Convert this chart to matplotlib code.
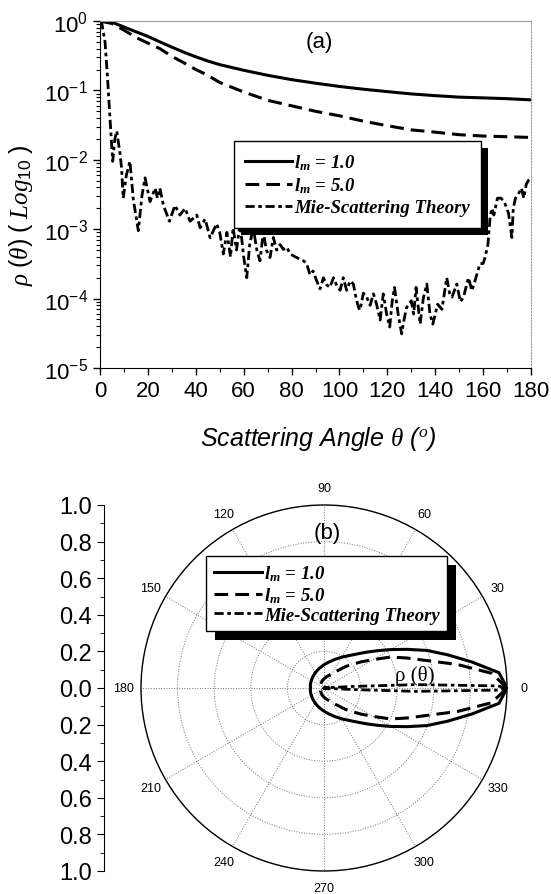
import numpy as np
import matplotlib
matplotlib.use("Agg")
import matplotlib.pyplot as plt
from matplotlib.patches import Rectangle
from matplotlib.ticker import MultipleLocator, LogLocator, NullFormatter, FuncFormatter

plt.rcParams['font.family'] = ['Liberation Sans', 'DejaVu Sans']
plt.rcParams['mathtext.fontset'] = 'custom'
plt.rcParams['mathtext.it'] = 'Liberation Serif:italic'
plt.rcParams['mathtext.bf'] = 'Liberation Serif:bold:italic'
plt.rcParams['mathtext.rm'] = 'Liberation Sans'

# ---- data ----
angle_lm = [0, 5, 10, 15, 20, 25, 30, 35, 40, 45, 50, 60, 70, 80, 90, 100,
            110, 120, 130, 140, 150, 160, 170, 180]
rho_lm1 = [1.0, 0.96, 0.82, 0.70, 0.60, 0.50, 0.42, 0.355, 0.305, 0.265, 0.235,
           0.195, 0.165, 0.143, 0.127, 0.114, 0.104, 0.096, 0.089, 0.084,
           0.080, 0.078, 0.076, 0.073]
rho_lm5 = [1.0, 0.92, 0.74, 0.58, 0.48, 0.40, 0.31, 0.25, 0.20, 0.165, 0.13,
           0.095, 0.072, 0.060, 0.050, 0.043, 0.036, 0.031, 0.027, 0.025,
           0.023, 0.022, 0.0215, 0.021]

angle_mie = [0, 0.7, 2.1, 3.1, 3.9, 4.5, 5.3, 6.2, 7.0, 8.4, 9.0, 9.7, 11.0,
             12.5, 13.9, 16.0, 17.5, 18.8, 20.9, 23.0, 24.0, 25.0, 26.5, 29.0,
             31.3, 33.4, 35.5, 37.6, 40.4, 41.8, 43.9, 46.0, 48.7, 50.0, 51.5,
             53.0, 54.5, 55.6, 57.0, 58.5, 60.0, 61.3, 62.5, 64.0, 65.5, 66.8,
             68.2, 69.5, 71.0, 72.4, 73.8, 75.2, 76.6, 78.0, 79.4, 81.5, 83.5,
             85.0, 86.3, 87.7, 89.0, 90.5, 91.9, 93.3, 94.5, 96.0, 97.5, 99.0,
             100.3, 101.6, 103.0, 104.5, 105.8, 107.0, 108.0, 108.6, 110.0,
             111.4, 112.8, 114.2, 115.5, 117.0, 118.3, 119.7, 121.0, 122.0,
             123.0, 124.5, 126.0, 127.0, 128.0, 130.0, 131.0, 132.0, 133.7,
             135.0, 136.5, 137.8, 139.0, 141.0, 142.8, 144.8, 146.0, 147.0,
             149.0, 150.5, 151.8, 153.9, 155.3, 156.6, 158.7, 160.0, 160.8,
             162.0, 162.9, 163.6, 164.5, 166.0, 167.5, 169.0, 170.6, 172.0,
             172.6, 173.5, 174.7, 176.0, 177.0, 178.0, 179.0, 180.0]
rho_mie = [1.0, 0.95, 0.5, 0.16, 0.055, 0.026, 0.0095, 0.02, 0.026, 0.012,
           0.0076, 0.0028, 0.006, 0.0095, 0.0027, 0.00095, 0.003, 0.0055,
           0.0025, 0.0039, 0.0028, 0.0039, 0.0022, 0.0013, 0.0022, 0.0016,
           0.0020, 0.0013, 0.0016, 0.00105, 0.0014, 0.00075, 0.0012, 0.0009,
           0.00044, 0.0009, 0.0004, 0.00105, 0.0005, 0.0012, 0.0004, 0.0002,
           0.0006, 0.00105, 0.0005, 0.00035, 0.0009, 0.0005, 0.00039, 0.00076,
           0.0005, 0.0006, 0.00051, 0.00055, 0.00044, 0.0004, 0.00037, 0.00035,
           0.00032, 0.00022, 0.00025, 0.00018, 0.000138, 0.0002, 0.00016,
           0.000145, 0.0002, 0.00015, 0.000132, 0.0002, 0.000132, 0.00018,
           0.000162, 0.0001, 0.000074, 0.000068, 0.00012, 0.000105, 0.00008,
           0.000117, 0.000083, 0.000049, 0.000117, 0.00006, 0.000039, 0.00009,
           0.000145, 0.00006, 0.000031, 0.00005, 0.000074, 0.000093, 0.00006,
           0.000145, 0.000043, 0.0001, 0.000162, 0.00006, 0.000043, 0.000083,
           0.00007, 0.0002, 0.00012, 0.000105, 0.000162, 0.00009, 0.000105,
           0.0002, 0.00013, 0.00018, 0.00032, 0.00032, 0.00039, 0.0006,
           0.00145, 0.002, 0.0016, 0.0028, 0.0028, 0.0024, 0.0017, 0.00076,
           0.002, 0.0028, 0.0032, 0.0039, 0.0028, 0.0044, 0.0051, 0.0055]

labels = [r"$\mathbf{l_m}$ = 1.0", r"$\mathbf{l_m}$ = 5.0", "Mie-Scattering Theory"]
polar_angles = list(range(0, 360, 30))
rings = [0.2, 0.4, 0.6, 0.8, 1.0]

W, H = 551, 895
fig = plt.figure(figsize=(W / 100, H / 100), dpi=100)


def px(x0, y0, x1, y1):
    # pixel box of the image -> figure fraction rect
    return [x0 / W, 1 - y1 / H, (x1 - x0) / W, (y1 - y0) / H]


def add_shadow(ax, leg, dx, dy):
    fig.canvas.draw()
    bb = leg.get_window_extent().transformed(fig.transFigure.inverted())
    ax.add_artist(Rectangle((bb.x0 + dx / W, bb.y0 - dy / H), bb.width, bb.height,
                            transform=fig.transFigure, facecolor='k',
                            edgecolor='none', zorder=4.9, clip_on=False))


styles = [dict(ls='-', lw=2.2),
          dict(ls=(0, (4.5, 2.3)), lw=2.2),
          dict(ls=(0, (3.3, 1.3, 1.3, 1.3)), lw=2.0)]
leg_font = {'family': 'Liberation Serif', 'weight': 'bold', 'style': 'italic', 'size': 13.5}

# ---- (a) log plot ----
ax = fig.add_axes(px(100, 22, 531, 369))
ax.semilogy(angle_lm, rho_lm1, color='k', label=labels[0], **styles[0])
ax.semilogy(angle_lm, rho_lm5, color='k', label=labels[1], **styles[1])
ax.semilogy(angle_mie, rho_mie, color='k', label=labels[2], **styles[2])
ax.set_xlim(0, 180)
ax.set_ylim(1e-5, 1)
ax.xaxis.set_major_locator(MultipleLocator(20))
ax.xaxis.set_minor_locator(MultipleLocator(10))
ax.yaxis.set_major_locator(LogLocator(base=10, numticks=10))
ax.yaxis.set_minor_locator(LogLocator(base=10, subs=np.arange(2, 10), numticks=10))
ax.yaxis.set_minor_formatter(NullFormatter())
ax.tick_params(which='both', direction='out', labelsize=16, top=False, right=False)
ax.tick_params(which='major', length=5, width=1)
ax.tick_params(which='minor', length=3, width=0.8)
for s in ['top', 'right']:
    ax.spines[s].set_color('0.6')
    ax.spines[s].set_linewidth(0.8)
ax.spines['right'].set_linestyle(':')
ax.set_xlabel(r"Scattering Angle $\theta$ ($^o$)", fontsize=18, style='italic')
ax.xaxis.set_label_coords(0.506, -0.16)
ax.set_ylabel(r"$\rho\ (\theta)\ (\ Log_{10}\ )$", fontsize=18)
ax.yaxis.set_label_coords(-0.15, 0.444)
ax.text(0.51, 0.94, "(a)", transform=ax.transAxes, ha='center', va='center', fontsize=16)

leg1 = ax.legend(loc='upper left', bbox_to_anchor=(234 / W, 1 - 142 / H),
                 bbox_transform=fig.transFigure, borderaxespad=0, fancybox=False,
                 edgecolor='k', framealpha=1, prop=leg_font, handlelength=2.5,
                 handletextpad=0.1, labelspacing=0.2, borderpad=0.6)
leg1.get_frame().set_linewidth(1.0)

# ---- (b) polar plot ----
pax = fig.add_axes(px(141, 506, 507, 872), projection='polar')
ang = np.asarray(angle_lm, dtype=float)
ang_m = np.asarray(angle_mie, dtype=float)
th_lm = np.radians(np.concatenate([ang, 360 - ang[::-1]]))
th_mie = np.radians(np.concatenate([ang_m, 360 - ang_m[::-1]]))
pax.plot(th_lm, np.concatenate([rho_lm1, rho_lm1[::-1]]), color='k', label=labels[0], **styles[0])
pax.plot(th_lm, np.concatenate([rho_lm5, rho_lm5[::-1]]), color='k', label=labels[1], **styles[1])
pax.plot(th_mie, np.concatenate([rho_mie, rho_mie[::-1]]), color='k', label=labels[2], **styles[2])
pax.set_ylim(0, 1)
pax.set_yticks(rings)
pax.set_yticklabels([])
pax.set_thetagrids(polar_angles, labels=[str(a) for a in polar_angles], fontsize=9)
pax.tick_params(axis='x', pad=2)
pax.grid(color='0.45', ls=':', lw=0.7)
pax.spines['polar'].set_linewidth(1.0)
pax.text(0.508, 0.926, "(b)", transform=pax.transAxes, ha='center', va='center', fontsize=16)
pax.text(0.749, 0.535, "ρ (θ)", transform=pax.transAxes, ha='center', va='center',
         fontsize=15, family='Liberation Serif')

leg2 = pax.legend(loc='upper left', bbox_to_anchor=(206 / W, 1 - 557 / H),
                  bbox_transform=fig.transFigure, borderaxespad=0, fancybox=False,
                  edgecolor='k', framealpha=1, prop=leg_font, handlelength=2.6,
                  handletextpad=0.1, labelspacing=0.1, borderpad=0.4)
leg2.get_frame().set_linewidth(1.0)

# ---- left linear scale for (b) ----
lax = fig.add_axes(px(104, 506, 105, 872))
lax.set_facecolor('none')
lax.set_ylim(-1, 1)
lax.yaxis.set_major_locator(MultipleLocator(0.2))
lax.yaxis.set_minor_locator(MultipleLocator(0.1))
lax.yaxis.set_major_formatter(FuncFormatter(lambda v, p: f"{abs(v):.1f}"))
lax.set_xticks([])
for s in ['top', 'right', 'bottom']:
    lax.spines[s].set_visible(False)
lax.tick_params(which='both', direction='out', labelsize=17)
lax.tick_params(which='major', length=5)
lax.tick_params(which='minor', length=3)

add_shadow(ax, leg1, 7, 7)
add_shadow(pax, leg2, 9, 9)

fig.savefig("out.png", dpi=100)
